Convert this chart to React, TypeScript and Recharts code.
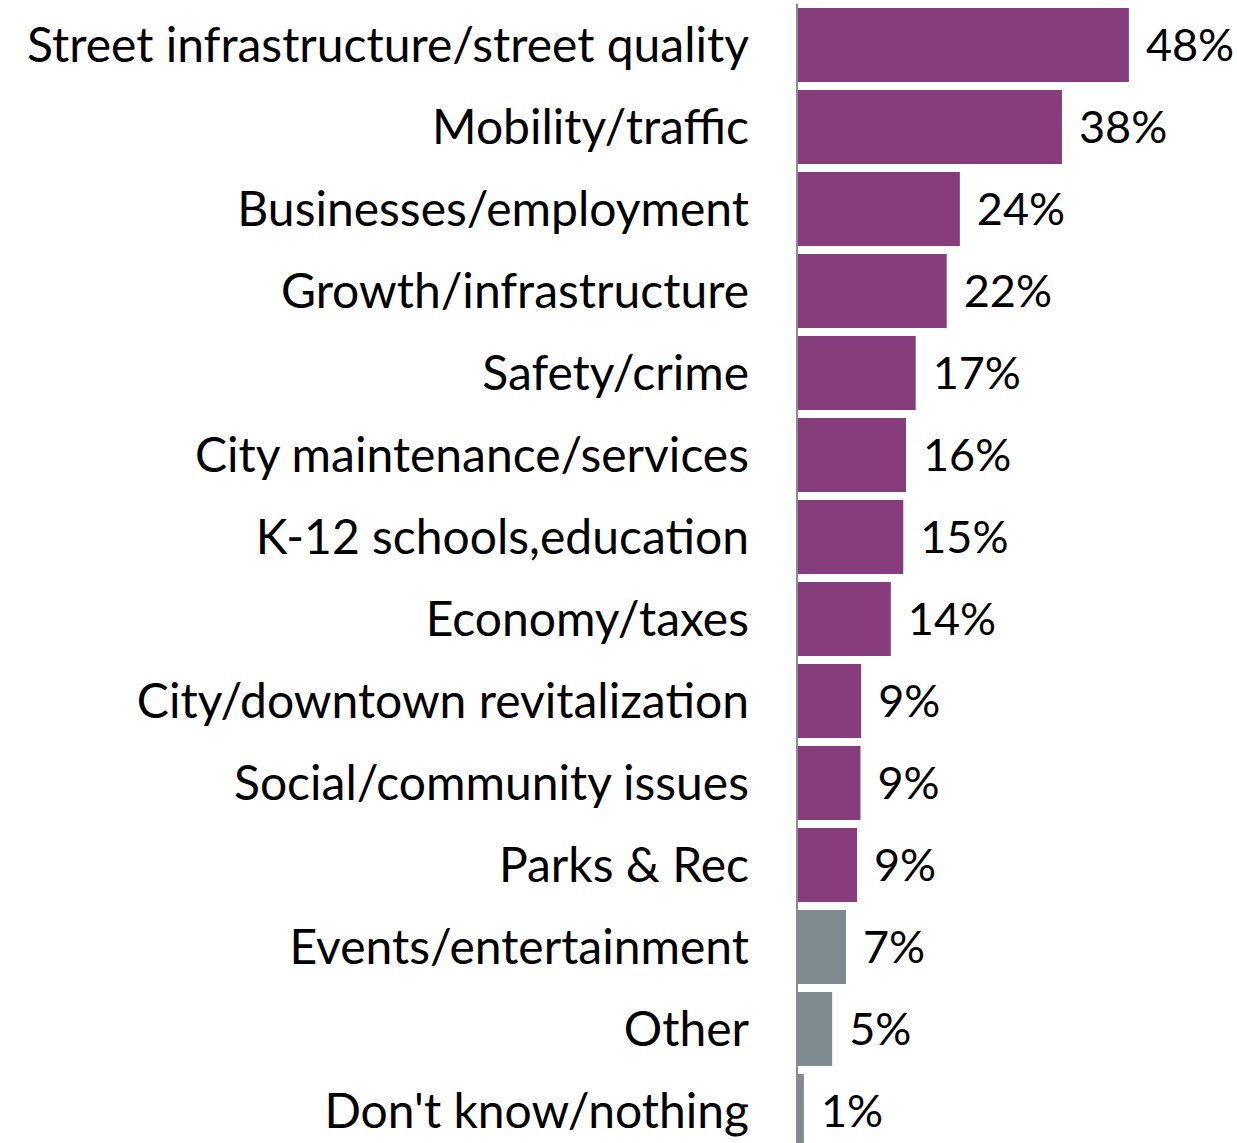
import React from 'react';
import { BarChart, Bar, XAxis, YAxis, Cell, LabelList } from 'recharts';

const categories = [
  'Street infrastructure/street quality',
  'Mobility/traffic',
  'Businesses/employment',
  'Growth/infrastructure',
  'Safety/crime',
  'City maintenance/services',
  'K-12 schools,education',
  'Economy/taxes',
  'City/downtown revitalization',
  'Social/community issues',
  'Parks & Rec',
  'Events/entertainment',
  'Other',
  "Don't know/nothing",
];

const values = [48.1, 38.4, 23.6, 21.7, 17.2, 15.8, 15.4, 13.6, 9.3, 9.2, 8.7, 7.1, 5.1, 1.0];
const labels = ['48%', '38%', '24%', '22%', '17%', '16%', '15%', '14%', '9%', '9%', '9%', '7%', '5%', '1%'];
const highlighted = [true, true, true, true, true, true, true, true, true, true, true, false, false, false];

const PURPLE = '#873C7C';
const GRAY = '#7E8C90';
const FONT = 'Lato, "Open Sans", sans-serif';

const data = categories.map((name, i) => ({ name, value: values[i], label: labels[i], hi: highlighted[i] }));

export default function App() {
  return (
    <div style={{ position: 'absolute', top: 0, left: 0, background: '#fff' }}>
      <BarChart
        width={1237}
        height={1152}
        data={data}
        layout="vertical"
        margin={{ top: 4, right: 95, bottom: 0, left: 0 }}
        barSize={74}
      >
        <XAxis type="number" domain={[0, 50]} hide />
        <YAxis
          type="category"
          dataKey="name"
          width={797}
          tickLine={false}
          tickSize={0}
          tickMargin={48}
          axisLine={{ stroke: '#8a8a8a', strokeWidth: 2 }}
          tick={{ fill: '#000', fontSize: 48, fontFamily: FONT }}
          interval={0}
        />
        <Bar dataKey="value" isAnimationActive={false}>
          {data.map((d, i) => (
            <Cell key={i} fill={d.hi ? PURPLE : GRAY} />
          ))}
          <LabelList
            dataKey="label"
            position="right"
            offset={17}
            style={{ fill: '#000', fontSize: 45, fontFamily: FONT }}
          />
        </Bar>
      </BarChart>
    </div>
  );
}
